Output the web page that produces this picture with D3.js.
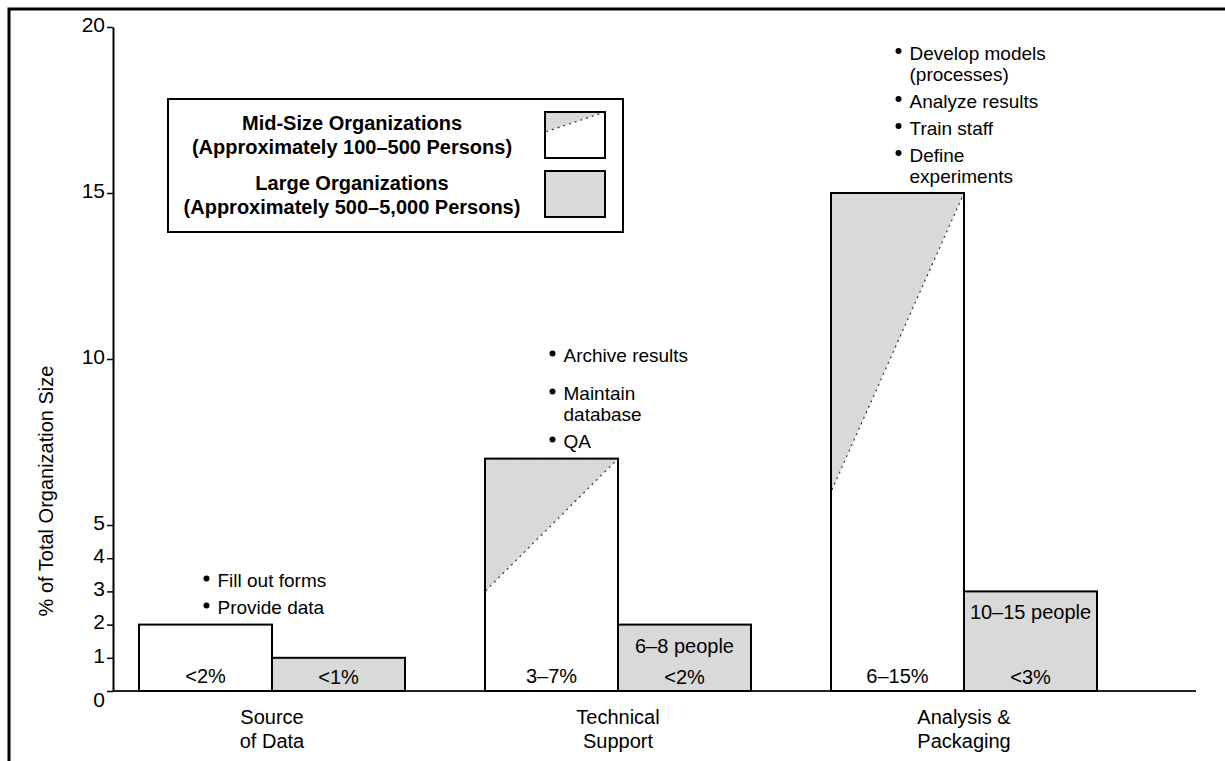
<!DOCTYPE html>
<html>
<head>
<meta charset="utf-8">
<script src="https://cdn.jsdelivr.net/npm/d3@7"></script>
<style>
  body { margin: 0; background: #fff; }
  text { font-family: "Liberation Sans", Arial, sans-serif; fill: #000; }
</style>
</head>
<body>
<div id="chart"></div>
<script>
// data
var categories = ["Source of Data", "Technical Support", "Analysis & Packaging"];
var categoryLines = [["Source", "of Data"], ["Technical", "Support"], ["Analysis &", "Packaging"]];
var midHigh = [2, 7, 15];
var midLow = [2, 3, 6];
var largeValues = [1, 2, 3];
var midLabels = ["<2%", "3–7%", "6–15%"];
var largeLabels = ["<1%", "<2%", "<3%"];
var largePeople = ["", "6–8 people", "10–15 people"];
var tasks = [
    [["Fill out forms"], ["Provide data"]],
    [["Archive results"], ["Maintain", "database"], ["QA"]],
    [["Develop models", "(processes)"], ["Analyze results"], ["Train staff"], ["Define", "experiments"]]
];
var yTicks = [0, 1, 2, 3, 4, 5, 10, 15, 20];
var legendItems = [
    ["Mid-Size Organizations", "(Approximately 100–500 Persons)"],
    ["Large Organizations", "(Approximately 500–5,000 Persons)"]
];

var width = 1225,
    height = 761,
    gray = "#d9d9d9",
    fs = "20px";

var svg = d3.select("#chart").append("svg")
    .attr("width", width)
    .attr("height", height);

// outer frame (top and left only)
svg.append("path")
    .attr("d", "M9,761 L9,9 L1225,9")
    .attr("fill", "none")
    .attr("stroke", "#000")
    .attr("stroke-width", 3);

// scales
var y = d3.scaleLinear().domain([0, 20]).range([691, 27]);
var x = d3.scalePoint().domain(categories).range([272, 964]);
var sub = d3.scaleBand().domain(["mid", "large"]).range([-133, 133]);
var bw = sub.bandwidth();

// y axis
var yAxis = svg.append("g")
    .attr("transform", "translate(113,0)")
    .call(d3.axisLeft(y).tickValues(yTicks).tickSize(6).tickSizeOuter(0).tickPadding(2));
yAxis.select(".domain").attr("stroke", "#000").attr("stroke-width", 2);
yAxis.selectAll(".tick line").attr("stroke", "#000").attr("stroke-width", 1.5);
yAxis.selectAll(".tick text")
    .style("font-size", "21px")
    .style("font-family", "'Liberation Sans', Arial, sans-serif")
    .attr("fill", "#000")
    .attr("dy", function(d){ return d == 0 ? "0.75em" : "0.2em"; });

svg.append("text")
    .attr("transform", "translate(46," + 491 + ") rotate(-90)")
    .attr("text-anchor", "middle")
    .attr("dy", "0.35em")
    .style("font-size", fs)
    .text("% of Total Organization Size");

// baseline
svg.append("line")
    .attr("x1", 113).attr("x2", 1196)
    .attr("y1", y(0)).attr("y2", y(0))
    .attr("stroke", "#222")
    .attr("stroke-width", 2);

var groups = svg.selectAll(".cat")
    .data(categories)
    .enter().append("g")
    .attr("class", "cat");

// mid-size bars (white with grey range triangle)
groups.append("rect")
    .attr("x", function(d){ return x(d) + sub("mid"); })
    .attr("y", function(d, i){ return y(midHigh[i]); })
    .attr("width", bw)
    .attr("height", function(d, i){ return y(0) - y(midHigh[i]); })
    .attr("fill", "#fff");

groups.filter(function(d, i){ return midLow[i] < midHigh[i]; })
    .each(function(d){
        var i = categories.indexOf(d),
            xl = x(d) + sub("mid"),
            xr = xl + bw;
        d3.select(this).append("path")
            .attr("d", "M" + xl + "," + y(midHigh[i]) + " L" + xr + "," + y(midHigh[i]) + " L" + xl + "," + y(midLow[i]) + " Z")
            .attr("fill", gray)
            .attr("stroke", "#333")
            .attr("stroke-width", 1.2)
            .attr("stroke-dasharray", "2,4");
    });

groups.append("rect")
    .attr("x", function(d){ return x(d) + sub("mid"); })
    .attr("y", function(d, i){ return y(midHigh[i]); })
    .attr("width", bw)
    .attr("height", function(d, i){ return y(0) - y(midHigh[i]); })
    .attr("fill", "none")
    .attr("stroke", "#000")
    .attr("stroke-width", 2);

// large org bars
groups.append("rect")
    .attr("x", function(d){ return x(d) + sub("large"); })
    .attr("y", function(d, i){ return y(largeValues[i]); })
    .attr("width", bw)
    .attr("height", function(d, i){ return y(0) - y(largeValues[i]); })
    .attr("fill", gray)
    .attr("stroke", "#000")
    .attr("stroke-width", 2);

// bar labels
groups.append("text")
    .attr("x", function(d){ return x(d) + sub("mid") + bw / 2; })
    .attr("y", y(0) - 8)
    .attr("text-anchor", "middle")
    .style("font-size", fs)
    .text(function(d, i){ return midLabels[i]; });

groups.append("text")
    .attr("x", function(d){ return x(d) + sub("large") + bw / 2; })
    .attr("y", y(0) - 7)
    .attr("text-anchor", "middle")
    .style("font-size", fs)
    .text(function(d, i){ return largeLabels[i]; });

groups.append("text")
    .attr("x", function(d){ return x(d) + sub("large") + bw / 2; })
    .attr("y", function(d, i){ return y(largeValues[i]) + 21; })
    .attr("dy", "0.35em")
    .attr("text-anchor", "middle")
    .style("font-size", fs)
    .text(function(d, i){ return largePeople[i]; });

// category labels
groups.each(function(d, i){
    var t = d3.select(this).append("text")
        .attr("text-anchor", "middle")
        .style("font-size", fs);
    categoryLines[i].forEach(function(line, k){
        t.append("tspan")
            .attr("x", x(d))
            .attr("y", 717 + k * 24)
            .attr("dy", "0.35em")
            .text(line);
    });
});

// task bullets, stacked upward from the top of the mid-size bar
groups.each(function(d, i){
    var g = d3.select(this),
        xc = x(d) + sub("mid") + bw / 2,
        cy = y(midHigh[i]) - 17,
        items = tasks[i];
    for (var k = items.length - 1; k >= 0; k--) {
        var lines = items[k];
        var firstY = cy - (lines.length - 1) * 21;
        g.append("circle")
            .attr("cx", xc + 1)
            .attr("cy", firstY - 2)
            .attr("r", 3)
            .attr("fill", "#000");
        var t = g.append("text")
            .style("font-size", "19px");
        lines.forEach(function(line, j){
            t.append("tspan")
                .attr("x", xc + 12)
                .attr("y", firstY + j * 21)
                .attr("dy", "0.35em")
                .text(line);
        });
        cy = firstY - (k == 1 && i == 1 ? 38 : 27);
    }
});

// legend
var legend = svg.append("g");
legend.append("rect")
    .attr("x", 168).attr("y", 99)
    .attr("width", 455).attr("height", 133)
    .attr("fill", "#fff")
    .attr("stroke", "#000")
    .attr("stroke-width", 2);

legendItems.forEach(function(item, i){
    var t = legend.append("text")
        .attr("text-anchor", "middle")
        .style("font-size", fs)
        .style("font-weight", "bold");
    item.forEach(function(line, j){
        t.append("tspan")
            .attr("x", 352)
            .attr("y", 123 + i * 60 + j * 24)
            .attr("dy", "0.35em")
            .text(line);
    });
});

legend.append("rect")
    .attr("x", 545).attr("y", 112).attr("width", 60).attr("height", 46)
    .attr("fill", "#fff");
legend.append("path")
    .attr("d", "M545,112 L605,112 L545,132 Z")
    .attr("fill", gray)
    .attr("stroke", "#333")
    .attr("stroke-width", 1.2)
    .attr("stroke-dasharray", "2,4");
legend.append("rect")
    .attr("x", 545).attr("y", 112).attr("width", 60).attr("height", 46)
    .attr("fill", "none").attr("stroke", "#000").attr("stroke-width", 2);
legend.append("rect")
    .attr("x", 545).attr("y", 171).attr("width", 60).attr("height", 46)
    .attr("fill", gray).attr("stroke", "#000").attr("stroke-width", 2);
</script>
</body>
</html>
